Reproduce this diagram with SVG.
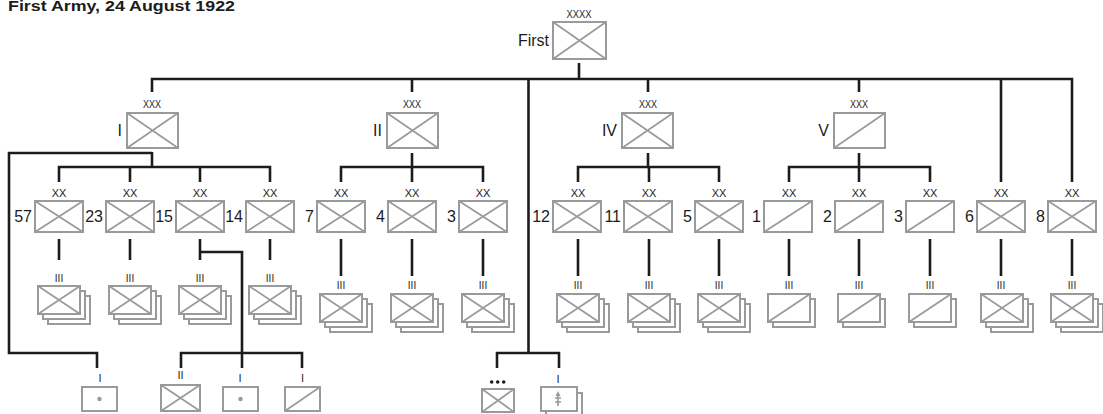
<svg xmlns="http://www.w3.org/2000/svg" width="1103" height="414" viewBox="0 0 1103 414">
<style>
.ln{stroke:#1c1c1c;stroke-width:2.6;fill:none;stroke-linejoin:miter}
.bx{fill:#fff;stroke:#9a9a9a;stroke-width:2}
.sy{fill:none;stroke:#9a9a9a;stroke-width:1.7}
.t{font-family:"Liberation Sans",Arial,sans-serif;fill:#1c1c1c}
.ech{font-size:11px;text-anchor:middle}
.ech3{font-size:10px;text-anchor:middle}
.lab{font-size:16px;text-anchor:end}
.title{font-size:14px;font-weight:bold}
</style>
<defs>
<g id="armyX"><rect class="bx" x="0" y="0" width="53" height="37"/><path class="sy" d="M0,0L53,37M53,0L0,37"/></g>
<g id="corpsX"><rect class="bx" x="0" y="0" width="51" height="35"/><path class="sy" d="M0,0L51,35M51,0L0,35"/></g>
<g id="corpsS"><rect class="bx" x="0" y="0" width="51" height="35"/><path class="sy" d="M0,35L51,0"/></g>
<g id="divX"><rect class="bx" x="0" y="0" width="48" height="31"/><path class="sy" d="M0,0L48,31M48,0L0,31"/></g>
<g id="divS"><rect class="bx" x="0" y="0" width="48" height="31"/><path class="sy" d="M0,31L48,0"/></g>
<g id="regX3"><rect class="bx" x="10" y="10" width="42" height="28"/><rect class="bx" x="5" y="5" width="42" height="28"/><rect class="bx" x="0" y="0" width="42" height="28"/><path class="sy" d="M0,0L42,28M42,0L0,28"/></g>
<g id="regS2"><rect class="bx" x="5" y="5" width="42" height="28"/><rect class="bx" x="0" y="0" width="42" height="28"/><path class="sy" d="M0,28L42,0"/></g>
<g id="coDot"><rect class="bx" x="0" y="0" width="35" height="24"/><circle cx="17.5" cy="12" r="2.2" fill="#9a9a9a"/></g>
<g id="coS"><rect class="bx" x="0" y="0" width="35" height="24"/><path class="sy" d="M0,24L35,0"/></g>
</defs>

<text class="t title" x="8" y="11" textLength="227" lengthAdjust="spacingAndGlyphs">First Army, 24 August 1922</text>

<g id="connectors">
<path class="ln" d="M579,63V79"/>
<path class="ln" d="M152,92V79H1072V182"/>
<path class="ln" d="M412,79V92"/>
<path class="ln" d="M648,79V92"/>
<path class="ln" d="M859,79V92"/>
<path class="ln" d="M1001,79V182"/>
<path class="ln" d="M528.5,79V353"/>
<path class="ln" d="M497,368V353H559V368"/>
<path class="ln" d="M152,152V167"/>
<path class="ln" d="M59,182V167H270V182"/>
<path class="ln" d="M130,167V182M200,167V182"/>
<path class="ln" d="M152,153H9V353H97V368"/>
<path class="ln" d="M412,153V167"/>
<path class="ln" d="M341,182V167H483V182M412,167V182"/>
<path class="ln" d="M648,153V167"/>
<path class="ln" d="M578,182V167H719V182M649,167V182"/>
<path class="ln" d="M859,153V167"/>
<path class="ln" d="M789,182V167H930V182M859,167V182"/>
<path class="ln" d="M59,239V260M130,239V260M200,239V260M270,239V260"/>
<path class="ln" d="M341,239V276M412,239V276M483,239V276M578,239V276M649,239V276M719,239V276M789,239V276M859,239V276M930,239V276M1001,239V276M1072,239V276"/>
<path class="ln" d="M200,252H242V353"/>
<path class="ln" d="M181,368V353H302V368M242,353V368"/>
</g>

<g id="army-first">
<use href="#armyX" x="553" y="22"/>
<text class="t ech" x="579" y="18" textLength="25" lengthAdjust="spacingAndGlyphs">XXXX</text>
<text class="t lab" x="549" y="46">First</text>
</g>

<g id="corps-I"><use href="#corpsX" x="127" y="113"/><text class="t ech" x="152" y="108" textLength="18" lengthAdjust="spacingAndGlyphs">XXX</text><text class="t lab" x="122" y="136">I</text></g>
<g id="corps-II"><use href="#corpsX" x="387" y="113"/><text class="t ech" x="412" y="108" textLength="18" lengthAdjust="spacingAndGlyphs">XXX</text><text class="t lab" x="382" y="136">II</text></g>
<g id="corps-IV"><use href="#corpsX" x="622" y="113"/><text class="t ech" x="648" y="108" textLength="18" lengthAdjust="spacingAndGlyphs">XXX</text><text class="t lab" x="617" y="136">IV</text></g>
<g id="corps-V"><use href="#corpsS" x="834" y="113"/><text class="t ech" x="859" y="108" textLength="18" lengthAdjust="spacingAndGlyphs">XXX</text><text class="t lab" x="829" y="136">V</text></g>

<g id="div-57"><use href="#divX" x="35" y="201"/><text class="t ech" x="59" y="197">XX</text><text class="t lab" x="32" y="222">57</text><text class="t ech3" x="59" y="282">III</text><use href="#regX3" x="38" y="286"/></g>
<g id="div-23"><use href="#divX" x="106" y="201"/><text class="t ech" x="130" y="197">XX</text><text class="t lab" x="103" y="222">23</text><text class="t ech3" x="130" y="282">III</text><use href="#regX3" x="109" y="286"/></g>
<g id="div-15"><use href="#divX" x="176" y="201"/><text class="t ech" x="200" y="197">XX</text><text class="t lab" x="173" y="222">15</text><text class="t ech3" x="200" y="282">III</text><use href="#regX3" x="179" y="286"/></g>
<g id="div-14"><use href="#divX" x="246" y="201"/><text class="t ech" x="270" y="197">XX</text><text class="t lab" x="243" y="222">14</text><text class="t ech3" x="270" y="282">III</text><use href="#regX3" x="249" y="286"/></g>

<g id="div-7"><use href="#divX" x="317" y="201"/><text class="t ech" x="341" y="197">XX</text><text class="t lab" x="314" y="222">7</text><text class="t ech3" x="341" y="289">III</text><use href="#regX3" x="320" y="294"/></g>
<g id="div-4"><use href="#divX" x="388" y="201"/><text class="t ech" x="412" y="197">XX</text><text class="t lab" x="385" y="222">4</text><text class="t ech3" x="412" y="289">III</text><use href="#regX3" x="391" y="294"/></g>
<g id="div-3a"><use href="#divX" x="459" y="201"/><text class="t ech" x="483" y="197">XX</text><text class="t lab" x="456" y="222">3</text><text class="t ech3" x="483" y="289">III</text><use href="#regX3" x="462" y="294"/></g>

<g id="div-12"><use href="#divX" x="553" y="201"/><text class="t ech" x="578" y="197">XX</text><text class="t lab" x="550" y="222">12</text><text class="t ech3" x="578" y="289">III</text><use href="#regX3" x="557" y="294"/></g>
<g id="div-11"><use href="#divX" x="624" y="201"/><text class="t ech" x="649" y="197">XX</text><text class="t lab" x="621" y="222">11</text><text class="t ech3" x="649" y="289">III</text><use href="#regX3" x="628" y="294"/></g>
<g id="div-5"><use href="#divX" x="695" y="201"/><text class="t ech" x="719" y="197">XX</text><text class="t lab" x="692" y="222">5</text><text class="t ech3" x="719" y="289">III</text><use href="#regX3" x="698" y="294"/></g>

<g id="div-1"><use href="#divS" x="764" y="201"/><text class="t ech" x="789" y="197">XX</text><text class="t lab" x="761" y="222">1</text><text class="t ech3" x="789" y="289">III</text><use href="#regS2" x="768" y="294"/></g>
<g id="div-2"><use href="#divS" x="835" y="201"/><text class="t ech" x="859" y="197">XX</text><text class="t lab" x="832" y="222">2</text><text class="t ech3" x="859" y="289">III</text><use href="#regS2" x="838" y="294"/></g>
<g id="div-3b"><use href="#divS" x="906" y="201"/><text class="t ech" x="930" y="197">XX</text><text class="t lab" x="903" y="222">3</text><text class="t ech3" x="930" y="289">III</text><use href="#regS2" x="909" y="294"/></g>

<g id="div-6"><use href="#divX" x="977" y="201"/><text class="t ech" x="1001" y="197">XX</text><text class="t lab" x="974" y="222">6</text><text class="t ech3" x="1001" y="289">III</text><use href="#regX3" x="981" y="294"/></g>
<g id="div-8"><use href="#divX" x="1048" y="201"/><text class="t ech" x="1072" y="197">XX</text><text class="t lab" x="1045" y="222">8</text><text class="t ech3" x="1072" y="289">III</text><use href="#regX3" x="1051" y="294"/></g>

<g id="unit-I-bty"><text class="t ech" x="100" y="382">I</text><use href="#coDot" x="82" y="387"/></g>
<g id="unit-15-bn"><text class="t ech" x="180.5" y="379">II</text><rect class="bx" x="161" y="385" width="39" height="26"/><path class="sy" d="M161,385L200,411M200,385L161,411"/></g>
<g id="unit-15-bty"><text class="t ech" x="240" y="382">I</text><use href="#coDot" x="223" y="387"/></g>
<g id="unit-15-coy"><text class="t ech" x="302.5" y="382">I</text><use href="#coS" x="285" y="387"/></g>

<g id="unit-army-sec">
<circle cx="491.7" cy="382" r="1.8" fill="#1c1c1c"/><circle cx="497.7" cy="382" r="1.8" fill="#1c1c1c"/><circle cx="503.7" cy="382" r="1.8" fill="#1c1c1c"/>
<rect class="bx" x="482" y="389" width="32" height="23"/><path class="sy" d="M482,389L514,412M514,389L482,412"/>
</g>
<g id="unit-army-coys">
<text class="t ech" x="558" y="383">I</text>
<rect class="bx" x="546" y="393" width="36" height="24"/>
<rect class="bx" x="541" y="387" width="36" height="24"/>
<path class="sy" d="M558,406V395M555,398H561M555,402H561"/>
<path d="M558,391L555.5,396H560.5Z" fill="#9a9a9a"/>
</g>
</svg>
